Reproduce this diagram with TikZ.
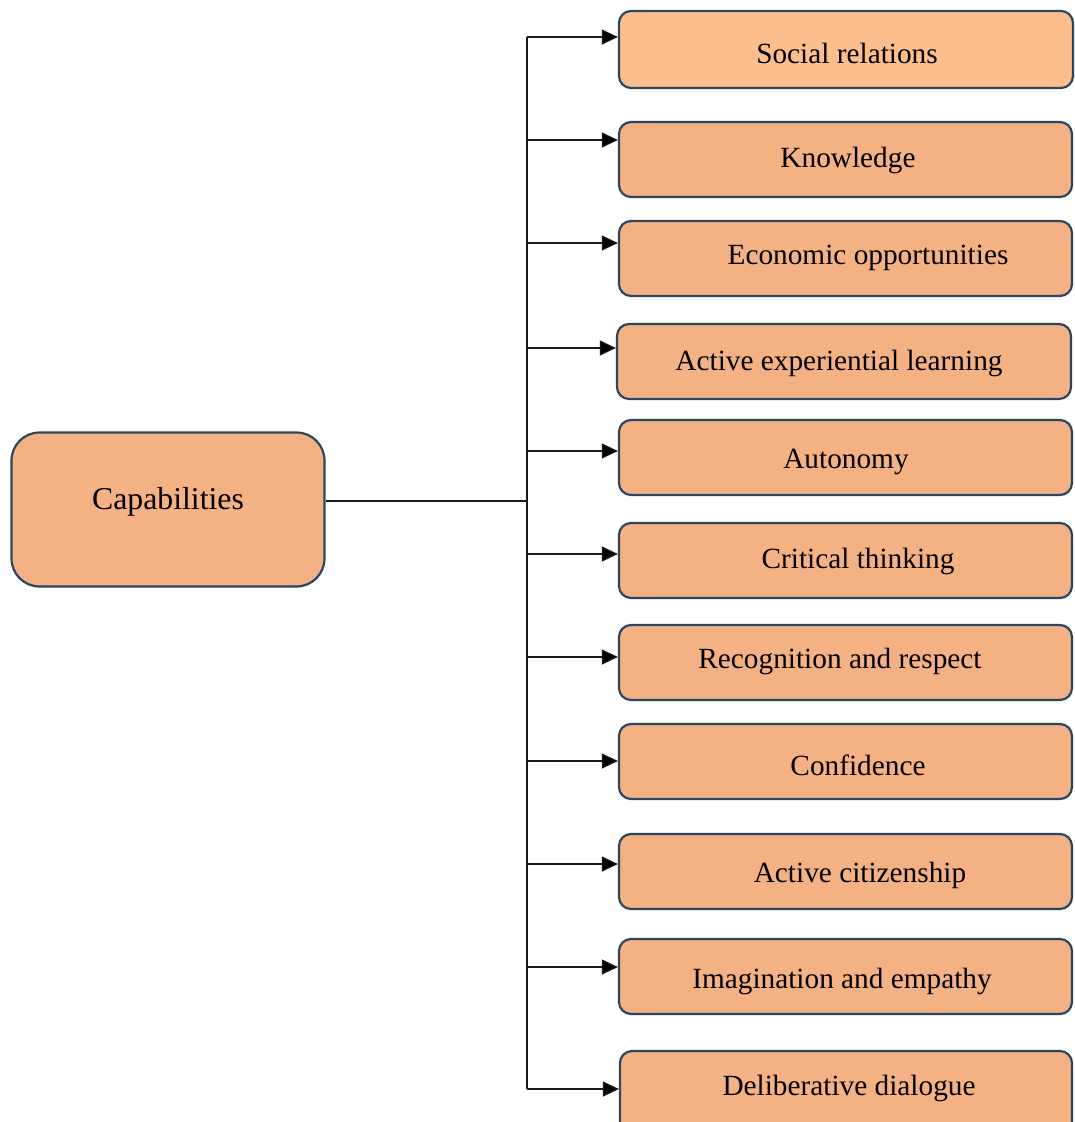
\documentclass[tikz,border=0pt]{standalone}
\usepackage{fontspec}
\setmainfont{Liberation Serif}
\usetikzlibrary{arrows.meta,calc}
\definecolor{boxfill}{HTML}{F4B183}
\definecolor{boxfilltop}{HTML}{FCBE8C}
\definecolor{boxline}{RGB}{44,70,98}
\tikzset{
  itembox/.style={draw=boxline, line width=2.2pt, fill=boxfill, rounded corners=12pt, inner sep=0pt},
  itemtext/.style={font=\fontsize{29.3}{32}\selectfont, inner sep=0pt, anchor=center},
  link/.style={draw=black!90, line width=1.2pt},
  arr/.style={link, -{Triangle[length=16pt,width=15pt,fill=black]}},
}
\begin{document}
\begin{tikzpicture}[x=1pt,y=-1pt]
\useasboundingbox (0,0) rectangle (1075,1122);
\clip (0,0) rectangle (1075,1122);
% central node
\node[itembox, rounded corners=28pt, minimum width=313pt, minimum height=154pt] (cap) at (168,509.5) {};
\node[itemtext, font=\fontsize{31.8}{35}\selectfont] (captext) at (168,502) {Capabilities};
% item boxes: fill, left, top, right, bottom, arrow y, text x, text y, text
\foreach \i/\c/\l/\t/\r/\b/\ay/\tx/\ty/\txt in {
  1/boxfilltop/619/11/1073/88/37/847/53/Social relations,
  2/boxfill/619/122/1072/197/140/848/160/Knowledge,
  3/boxfill/619/221/1072/296/243/868/258/Economic opportunities,
  4/boxfill/617/324/1071/399/348/839/363/Active experiential learning,
  5/boxfill/619/420/1072/495/451/846/462/Autonomy,
  6/boxfill/619/523/1072/598/554/858/561/Critical thinking,
  7/boxfill/619/625/1072/700/657/840/661/Recognition and respect,
  8/boxfill/619/724/1072/799/761/858/765/Confidence,
  9/boxfill/619/834/1072/909/864/860/875/Active citizenship,
  10/boxfill/619/939/1072/1014/967/842/981/Imagination and empathy,
  11/boxfill/620/1051/1072/1135/1089/849/1088/Deliberative dialogue}{
  \node[itembox, fill=\c, minimum width={\r-\l}, minimum height={\b-\t}] (b\i) at ({(\l+\r)/2},{(\t+\b)/2}) {};
  \node[itemtext] (l\i) at (\tx,\ty) {\txt};
  \coordinate (t\i) at (527,\ay);
  \draw[arr] (t\i) -- (t\i -| b\i.west);
}
% trunk
\coordinate (tc) at (527,501);
\draw[link] (t1) -- (t11);
\draw[link] (cap.east |- tc) -- (tc);
\end{tikzpicture}
\end{document}
